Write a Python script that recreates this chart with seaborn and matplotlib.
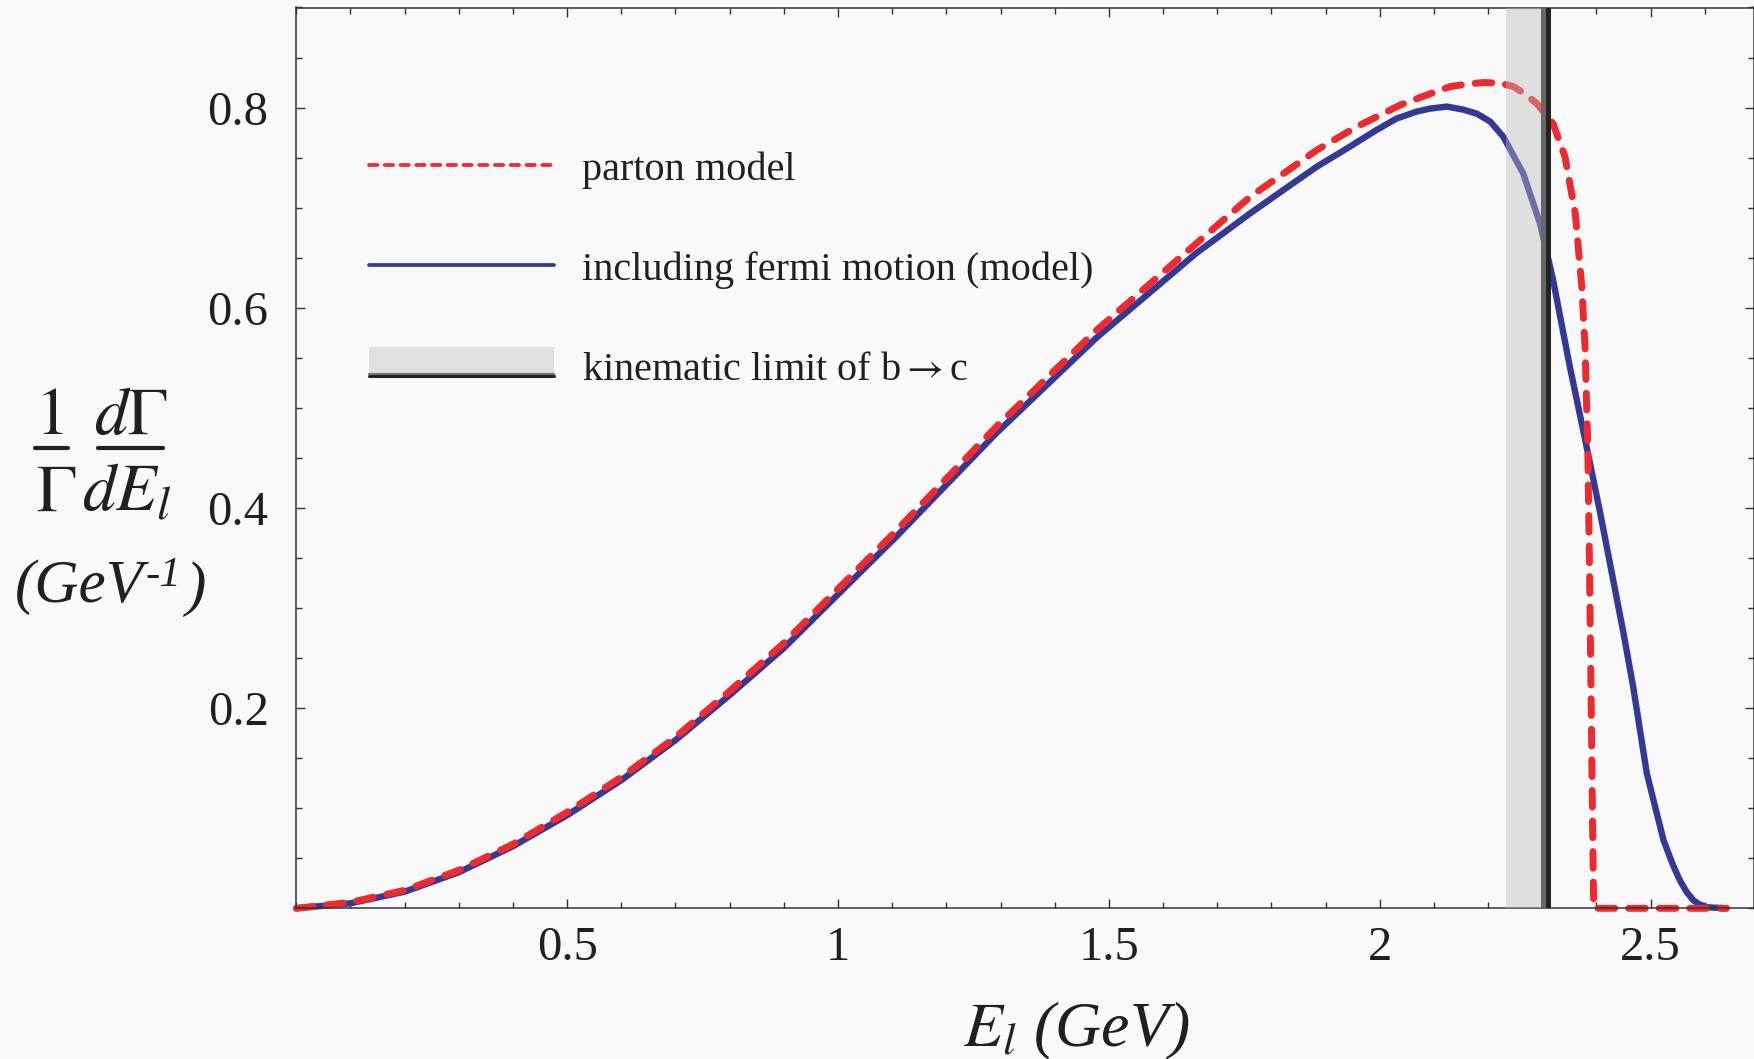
import matplotlib
matplotlib.use("Agg")
import matplotlib.pyplot as plt
from matplotlib.lines import Line2D
from matplotlib.patches import Rectangle
from matplotlib.legend_handler import HandlerBase
from matplotlib.ticker import MultipleLocator, FuncFormatter
import seaborn as sns

# ---------------- Data ---------------- #
e_fermi = [0.0, 0.1, 0.2, 0.3, 0.4, 0.5, 0.6, 0.7, 0.8, 0.9, 1.107, 1.292,
           1.476, 1.661, 1.761, 1.822, 1.884, 1.939, 1.994, 2.031, 2.068,
           2.093, 2.124, 2.154, 2.179, 2.204, 2.228, 2.265, 2.296, 2.320,
           2.351, 2.382, 2.407, 2.431, 2.450, 2.468, 2.493, 2.510, 2.524,
           2.540, 2.554, 2.567, 2.579, 2.590, 2.604, 2.640]
v_fermi = [0.0, 0.005, 0.0166, 0.036, 0.062, 0.093, 0.128, 0.168, 0.213,
           0.260, 0.371, 0.4746, 0.5695, 0.6544, 0.6944, 0.7176, 0.741,
           0.759, 0.7776, 0.789, 0.796, 0.799, 0.801, 0.798, 0.794, 0.786,
           0.771, 0.734, 0.684, 0.628, 0.541, 0.461, 0.395, 0.328, 0.275,
           0.221, 0.135, 0.098, 0.068, 0.045, 0.028, 0.016, 0.008, 0.004,
           0.001, 0.0]

e_parton = [0.0, 0.1, 0.2, 0.3, 0.4, 0.5, 0.6, 0.7, 0.8, 0.9, 1.107, 1.292,
            1.476, 1.661, 1.761, 1.822, 1.884, 1.958, 2.038, 2.087, 2.130,
            2.161, 2.191, 2.222, 2.247, 2.271, 2.290, 2.320, 2.342, 2.361,
            2.373, 2.379, 2.384, 2.387, 2.390, 2.393, 2.395, 2.640]
v_parton = [0.0, 0.006, 0.018, 0.038, 0.064, 0.096, 0.131, 0.171, 0.217,
            0.265, 0.377, 0.481, 0.577, 0.664, 0.711, 0.734, 0.7576, 0.781,
            0.8026, 0.8126, 0.821, 0.8235, 0.825, 0.8245, 0.821, 0.8126,
            0.804, 0.784, 0.751, 0.694, 0.621, 0.561, 0.461, 0.35, 0.22,
            0.08, 0.0, 0.0]

# kinematic limit of b -> c (band + edge lines)
band_lo, band_hi = 2.233, 2.2975
edge_gray = (2.2975, 2.3064)
edge_black = (2.3064, 2.3162)

x_major = [0.5, 1, 1.5, 2, 2.5]
y_major = [0.2, 0.4, 0.6, 0.8]

labels = ["parton model", "including fermi motion (model)",
          r"kinematic limit of b$\rightarrow$c"]

RED = "#ee2a2f"
BLUE = "#343996"
BG = "#f9f9f9"
INK = "#231f20"
W, H = 1754, 1059


def fx(px):
    return px / W


def fy(py):
    return 1 - py / H


class BandHandler(HandlerBase):
    """Legend key: light band with dark edge line at the bottom."""

    def create_artists(self, legend, orig_handle, xdescent, ydescent,
                       width, height, fontsize, trans):
        x0, y0 = -xdescent, -ydescent + 0.15 * height
        box = Rectangle((x0, y0), width, height, facecolor="#e0e0e0",
                        edgecolor="none", transform=trans)
        l1 = Line2D([x0, x0 + width], [y0 + 0.09 * height] * 2,
                    color="#777777", lw=1.6, transform=trans)
        l2 = Line2D([x0, x0 + width], [y0] * 2,
                    color="#222222", lw=2.2, transform=trans)
        return [box, l1, l2]


sns.set_style("ticks")
plt.rcParams["font.family"] = ["Liberation Serif", "DejaVu Serif"]
plt.rcParams["mathtext.fontset"] = "stix"
plt.rcParams["text.color"] = INK

fig = plt.figure(figsize=(17.54, 10.59), dpi=100, facecolor=BG)
ax = fig.add_axes([296.3 / W, 150.7 / H, 1457.2 / W, 900.8 / H])
ax.set_facecolor(BG)

sns.lineplot(x=e_fermi, y=v_fermi, ax=ax, color=BLUE, linewidth=4.6,
             estimator=None, sort=False, legend=False, clip_on=False,
             zorder=2)
sns.lineplot(x=e_parton, y=v_parton, ax=ax, color=RED, linewidth=5.0,
             estimator=None, sort=False, legend=False, clip_on=False,
             dashes=False, zorder=2.5)
ax.lines[-1].set_dashes((2.4, 2.0))
ax.lines[-1].set_dash_capstyle("round")

ax.axvspan(band_lo, band_hi, color="#bcbcbc", alpha=0.42, lw=0, zorder=3)
ax.axvspan(*edge_gray, color="#676767", lw=0, zorder=4)
ax.axvspan(*edge_black, color="#222222", lw=0, zorder=4)

ax.set_xlim(0, 2.69)
ax.set_ylim(0, 0.9)
ax.set_xticks(x_major)
ax.set_yticks(y_major)
ax.xaxis.set_minor_locator(MultipleLocator(0.1))
ax.yaxis.set_minor_locator(MultipleLocator(0.05))
ax.xaxis.set_major_formatter(FuncFormatter(lambda v, p: f"{v:g}"))
ax.yaxis.set_major_formatter(FuncFormatter(lambda v, p: f"{v:g}"))
ax.tick_params(which="both", direction="in", top=True, right=True,
               color="#333333", width=1.0, labelcolor=INK, labelsize=35)
ax.tick_params(which="major", length=6.5)
ax.tick_params(which="minor", length=4.5)
ax.tick_params(axis="x", pad=13)
ax.tick_params(axis="y", pad=20)
for sp in ax.spines.values():
    sp.set_color("#333333")
    sp.set_linewidth(1.1)
    sp.set_visible(True)

ax.set_xlabel(r"$E_l$ (GeV)", fontsize=46, fontstyle="italic",
              va="baseline", color=INK)
ax.xaxis.set_label_coords(0.535, -0.1536)

# ---------------- y label: 1/Gamma dGamma/dE_l (GeV^-1) ---------------- #
frac_kw = dict(fontsize=48, ha="center", va="baseline", color=INK)
fig.text(fx(49), fy(434), r"$1$", **frac_kw)
fig.text(fx(56), fy(511), r"$\Gamma$", **frac_kw)
fig.text(fx(131), fy(434), r"$d\Gamma$", **frac_kw)
fig.text(fx(127), fy(511), r"$dE_l$", **frac_kw)
for xa, xb in [(35, 68), (98, 163)]:
    fig.add_artist(Line2D([fx(xa), fx(xb)], [fy(448), fy(448)],
                          transform=fig.transFigure, color=INK, lw=3.0))

t_gev = fig.text(fx(15), fy(601.7), "(GeV", fontsize=44, fontstyle="italic",
                 ha="left", va="baseline", color=INK)
t_sup = ax.annotate("-1", xy=(1.0, 0.52), xycoords=t_gev,
                    xytext=(1, 0), textcoords="offset points",
                    fontsize=31, fontstyle="italic", ha="left",
                    va="baseline", color=INK, annotation_clip=False)
ax.annotate(")", xy=(1.0, 0.19), xycoords=(t_sup, t_gev),
            xytext=(3, 0), textcoords="offset points",
            fontsize=44, fontstyle="italic", ha="left", va="baseline",
            color=INK, annotation_clip=False)

# ---------------- legend ---------------- #
handles = [
    Line2D([], [], color=RED, lw=2.7, dashes=(2.2, 2.0),
           dash_capstyle="round"),
    Line2D([], [], color=BLUE, lw=2.7, solid_capstyle="round"),
    Rectangle((0, 0), 1, 1),
]
ax.legend(handles, labels, loc="upper left",
          bbox_to_anchor=(0.0499, 0.841), frameon=False, fontsize=29,
          handlelength=4.6, handleheight=0.75, handletextpad=0.7,
          labelspacing=1.55, borderpad=0, borderaxespad=0,
          handler_map={Rectangle: BandHandler()})

fig.savefig("out.png", dpi=100, facecolor=BG)
